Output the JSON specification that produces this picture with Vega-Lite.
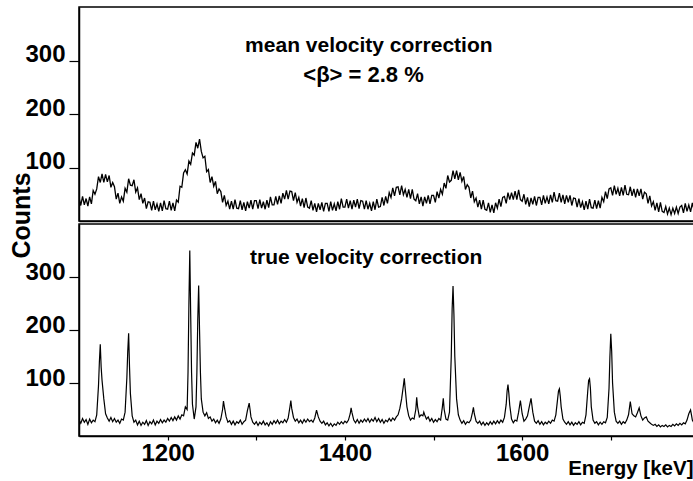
{
"$schema": "https://vega.github.io/schema/vega-lite/v6.json",
"background": "white",
"padding": {"left": 8, "top": 5, "right": 0, "bottom": 0},
"spacing": 3,
"bounds": "flush",
"config": {
  "font": "Liberation Sans, sans-serif",
  "view": {"stroke": "black", "strokeWidth": 1.5, "fill": null},
  "axis": {"grid": false, "domainColor": "black", "domainWidth": 1.5, "tickColor": "black", "tickWidth": 1.2, "labelColor": "black", "titleColor": "black", "labelFont": "Liberation Sans, sans-serif", "titleFont": "Liberation Sans, sans-serif", "labelFontSize": 24, "labelFontWeight": "bold", "labelOverlap": false, "labelFlush": false, "labelBound": false}
},
"vconcat": [
{
  "width": 616, "height": 214,
  "resolve": {"axis": {"y": "independent"}},
  "layer": [
    {
      "data": {"values": [
{"e":1100,"c":44},{"e":1102,"c":29},{"e":1104,"c":46},{"e":1106,"c":30},{"e":1108,"c":42},{"e":1110,"c":28},{"e":1112,"c":45},{"e":1114,"c":32},{"e":1116,"c":57},{"e":1118,"c":50},
{"e":1120,"c":60},{"e":1122,"c":83},{"e":1124,"c":72},{"e":1126,"c":88},{"e":1128,"c":72},{"e":1130,"c":87},{"e":1132,"c":73},{"e":1134,"c":85},{"e":1136,"c":63},{"e":1138,"c":72},
{"e":1140,"c":64},{"e":1142,"c":41},{"e":1144,"c":52},{"e":1146,"c":33},{"e":1148,"c":45},{"e":1150,"c":37},{"e":1152,"c":61},{"e":1154,"c":54},{"e":1156,"c":79},{"e":1158,"c":67},
{"e":1160,"c":66},{"e":1162,"c":77},{"e":1164,"c":54},{"e":1166,"c":62},{"e":1168,"c":40},{"e":1170,"c":51},{"e":1172,"c":33},{"e":1174,"c":43},{"e":1176,"c":23},{"e":1178,"c":36},
{"e":1180,"c":35},{"e":1182,"c":20},{"e":1184,"c":37},{"e":1186,"c":21},{"e":1188,"c":32},{"e":1190,"c":18},{"e":1192,"c":34},{"e":1194,"c":19},{"e":1196,"c":38},{"e":1198,"c":23},
{"e":1200,"c":22},{"e":1202,"c":37},{"e":1204,"c":20},{"e":1206,"c":34},{"e":1208,"c":19},{"e":1210,"c":39},{"e":1212,"c":35},{"e":1214,"c":65},{"e":1216,"c":63},{"e":1218,"c":90},
{"e":1220,"c":96},{"e":1222,"c":88},{"e":1224,"c":112},{"e":1226,"c":106},{"e":1228,"c":127},{"e":1230,"c":123},{"e":1232,"c":147},{"e":1234,"c":136},{"e":1236,"c":153},{"e":1238,"c":130},
{"e":1240,"c":118},{"e":1242,"c":121},{"e":1244,"c":92},{"e":1246,"c":96},{"e":1248,"c":72},{"e":1250,"c":83},{"e":1252,"c":65},{"e":1254,"c":74},{"e":1256,"c":51},{"e":1258,"c":60},
{"e":1260,"c":55},{"e":1262,"c":35},{"e":1264,"c":48},{"e":1266,"c":29},{"e":1268,"c":37},{"e":1270,"c":22},{"e":1272,"c":37},{"e":1274,"c":22},{"e":1276,"c":40},{"e":1278,"c":24},
{"e":1280,"c":23},{"e":1282,"c":38},{"e":1284,"c":21},{"e":1286,"c":35},{"e":1288,"c":19},{"e":1290,"c":36},{"e":1292,"c":24},{"e":1294,"c":39},{"e":1296,"c":22},{"e":1298,"c":38},
{"e":1300,"c":38},{"e":1302,"c":23},{"e":1304,"c":40},{"e":1306,"c":24},{"e":1308,"c":36},{"e":1310,"c":22},{"e":1312,"c":39},{"e":1314,"c":25},{"e":1316,"c":45},{"e":1318,"c":30},
{"e":1320,"c":30},{"e":1322,"c":46},{"e":1324,"c":31},{"e":1326,"c":47},{"e":1328,"c":33},{"e":1330,"c":52},{"e":1332,"c":41},{"e":1334,"c":57},{"e":1336,"c":41},{"e":1338,"c":56},
{"e":1340,"c":55},{"e":1342,"c":38},{"e":1344,"c":53},{"e":1346,"c":35},{"e":1348,"c":44},{"e":1350,"c":28},{"e":1352,"c":42},{"e":1354,"c":25},{"e":1356,"c":43},{"e":1358,"c":26},
{"e":1360,"c":24},{"e":1362,"c":38},{"e":1364,"c":20},{"e":1366,"c":33},{"e":1368,"c":17},{"e":1370,"c":33},{"e":1372,"c":21},{"e":1374,"c":35},{"e":1376,"c":18},{"e":1378,"c":33},
{"e":1380,"c":33},{"e":1382,"c":18},{"e":1384,"c":36},{"e":1386,"c":20},{"e":1388,"c":32},{"e":1390,"c":19},{"e":1392,"c":36},{"e":1394,"c":22},{"e":1396,"c":42},{"e":1398,"c":26},
{"e":1400,"c":26},{"e":1402,"c":41},{"e":1404,"c":24},{"e":1406,"c":38},{"e":1408,"c":22},{"e":1410,"c":39},{"e":1412,"c":26},{"e":1414,"c":41},{"e":1416,"c":23},{"e":1418,"c":38},
{"e":1420,"c":37},{"e":1422,"c":22},{"e":1424,"c":38},{"e":1426,"c":22},{"e":1428,"c":33},{"e":1430,"c":19},{"e":1432,"c":36},{"e":1434,"c":21},{"e":1436,"c":41},{"e":1438,"c":26},
{"e":1440,"c":27},{"e":1442,"c":44},{"e":1444,"c":29},{"e":1446,"c":46},{"e":1448,"c":33},{"e":1450,"c":53},{"e":1452,"c":44},{"e":1454,"c":62},{"e":1456,"c":47},{"e":1458,"c":63},
{"e":1460,"c":64},{"e":1462,"c":49},{"e":1464,"c":66},{"e":1466,"c":49},{"e":1468,"c":59},{"e":1470,"c":44},{"e":1472,"c":59},{"e":1474,"c":42},{"e":1476,"c":59},{"e":1478,"c":41},
{"e":1480,"c":38},{"e":1482,"c":51},{"e":1484,"c":32},{"e":1486,"c":45},{"e":1488,"c":28},{"e":1490,"c":45},{"e":1492,"c":33},{"e":1494,"c":48},{"e":1496,"c":32},{"e":1498,"c":48},
{"e":1500,"c":48},{"e":1502,"c":35},{"e":1504,"c":55},{"e":1506,"c":43},{"e":1508,"c":59},{"e":1510,"c":50},{"e":1512,"c":71},{"e":1514,"c":61},{"e":1516,"c":85},{"e":1518,"c":73},
{"e":1520,"c":76},{"e":1522,"c":94},{"e":1524,"c":79},{"e":1526,"c":94},{"e":1528,"c":77},{"e":1530,"c":91},{"e":1532,"c":74},{"e":1534,"c":83},{"e":1536,"c":59},{"e":1538,"c":68},
{"e":1540,"c":63},{"e":1542,"c":43},{"e":1544,"c":56},{"e":1546,"c":36},{"e":1548,"c":43},{"e":1550,"c":26},{"e":1552,"c":39},{"e":1554,"c":22},{"e":1556,"c":39},{"e":1558,"c":22},
{"e":1560,"c":20},{"e":1562,"c":34},{"e":1564,"c":16},{"e":1566,"c":30},{"e":1568,"c":15},{"e":1570,"c":34},{"e":1572,"c":24},{"e":1574,"c":41},{"e":1576,"c":27},{"e":1578,"c":44},
{"e":1580,"c":46},{"e":1582,"c":33},{"e":1584,"c":53},{"e":1586,"c":40},{"e":1588,"c":53},{"e":1590,"c":40},{"e":1592,"c":56},{"e":1594,"c":40},{"e":1596,"c":58},{"e":1598,"c":40},
{"e":1600,"c":37},{"e":1602,"c":50},{"e":1604,"c":31},{"e":1606,"c":44},{"e":1608,"c":27},{"e":1610,"c":43},{"e":1612,"c":31},{"e":1614,"c":46},{"e":1616,"c":29},{"e":1618,"c":44},
{"e":1620,"c":44},{"e":1622,"c":30},{"e":1624,"c":48},{"e":1626,"c":33},{"e":1628,"c":45},{"e":1630,"c":32},{"e":1632,"c":49},{"e":1634,"c":35},{"e":1636,"c":54},{"e":1638,"c":38},
{"e":1640,"c":37},{"e":1642,"c":52},{"e":1644,"c":35},{"e":1646,"c":49},{"e":1648,"c":32},{"e":1650,"c":48},{"e":1652,"c":35},{"e":1654,"c":48},{"e":1656,"c":29},{"e":1658,"c":43},
{"e":1660,"c":42},{"e":1662,"c":26},{"e":1664,"c":42},{"e":1666,"c":25},{"e":1668,"c":36},{"e":1670,"c":21},{"e":1672,"c":37},{"e":1674,"c":22},{"e":1676,"c":41},{"e":1678,"c":25},
{"e":1680,"c":24},{"e":1682,"c":39},{"e":1684,"c":23},{"e":1686,"c":38},{"e":1688,"c":24},{"e":1690,"c":44},{"e":1692,"c":36},{"e":1694,"c":55},{"e":1696,"c":42},{"e":1698,"c":60},
{"e":1700,"c":62},{"e":1702,"c":48},{"e":1704,"c":66},{"e":1706,"c":50},{"e":1708,"c":61},{"e":1710,"c":47},{"e":1712,"c":63},{"e":1714,"c":48},{"e":1716,"c":67},{"e":1718,"c":50},
{"e":1720,"c":49},{"e":1722,"c":64},{"e":1724,"c":47},{"e":1726,"c":60},{"e":1728,"c":44},{"e":1730,"c":60},{"e":1732,"c":47},{"e":1734,"c":60},{"e":1736,"c":41},{"e":1738,"c":54},
{"e":1740,"c":51},{"e":1742,"c":33},{"e":1744,"c":47},{"e":1746,"c":28},{"e":1748,"c":36},{"e":1750,"c":20},{"e":1752,"c":34},{"e":1754,"c":17},{"e":1756,"c":35},{"e":1758,"c":18},
{"e":1760,"c":16},{"e":1762,"c":27},{"e":1764,"c":13},{"e":1766,"c":24},{"e":1768,"c":12},{"e":1770,"c":24},{"e":1772,"c":14},{"e":1774,"c":26},{"e":1776,"c":14},{"e":1778,"c":26},
{"e":1780,"c":29},{"e":1782,"c":15},{"e":1784,"c":33},{"e":1786,"c":18},{"e":1788,"c":30},{"e":1790,"c":17},{"e":1792,"c":34},{"e":1794,"c":19}
      ]},
      "mark": {"type": "line", "color": "black", "strokeWidth": 1.3, "clip": true},
      "encoding": {
        "x": {"field": "e", "type": "quantitative", "scale": {"domain": [1100, 1795], "nice": false, "zero": false}, "axis": {"labels": false, "ticks": false, "title": null}},
        "y": {"field": "c", "type": "quantitative", "scale": {"domain": [0, 400], "nice": false},
          "axis": {"values": [100, 200, 300],
            "tickSize": 10, "labelPadding": 4, "labelOffset": -6,
            "title": "Counts", "titleFont": "Liberation Sans, sans-serif", "titleFontSize": 25, "titleFontWeight": "bold",
            "titleAngle": -90, "titleX": -50, "titleY": 208, "titleBaseline": "alphabetic", "titleAlign": "center"}}
      }
    },
    {
      "data": {"values": [{}]},
      "mark": {"type": "text", "font": "Liberation Sans, sans-serif", "fontSize": 21, "fontWeight": "bold", "baseline": "alphabetic", "align": "center", "color": "black"},
      "encoding": {"x": {"datum": 1427, "type": "quantitative"},
        "y": {"datum": 316, "type": "quantitative", "axis": {"values": [25,50,75,125,150,175,225,250,275,325,350,375], "labels": false, "domain": false, "tickSize": 5, "title": null}},
        "text": {"value": "mean velocity correction"}}
    },
    {
      "data": {"values": [{}]},
      "mark": {"type": "text", "font": "Liberation Sans, sans-serif", "fontSize": 22, "fontWeight": "bold", "baseline": "alphabetic", "align": "center", "color": "black"},
      "encoding": {"x": {"datum": 1421, "type": "quantitative"},
        "y": {"datum": 260, "type": "quantitative", "axis": {"values": [0, 400], "labels": false, "domain": false, "tickSize": 10, "title": null}},
        "text": {"value": "<β> = 2.8 %"}}
    }
  ]
},
{
  "width": 616, "height": 212,
  "resolve": {"axis": {"y": "independent"}},
  "layer": [
    {
      "data": {"values": [
{"e":1100,"c":30},{"e":1102,"c":24},{"e":1104,"c":33},{"e":1106,"c":26},{"e":1108,"c":31},{"e":1110,"c":22},{"e":1112,"c":32},{"e":1114,"c":25},{"e":1116,"c":30},{"e":1118,"c":27},
{"e":1120,"c":40},{"e":1122,"c":95},{"e":1123,"c":140},{"e":1124,"c":173},{"e":1125,"c":130},{"e":1126,"c":105},{"e":1128,"c":70},{"e":1130,"c":42},{"e":1132,"c":34},{"e":1134,"c":28},
{"e":1136,"c":35},{"e":1138,"c":27},{"e":1140,"c":33},{"e":1142,"c":26},{"e":1144,"c":30},{"e":1146,"c":24},{"e":1148,"c":32},{"e":1150,"c":30},{"e":1152,"c":45},{"e":1154,"c":110},
{"e":1155,"c":160},{"e":1156,"c":194},{"e":1157,"c":130},{"e":1158,"c":80},{"e":1160,"c":38},{"e":1162,"c":26},{"e":1164,"c":30},{"e":1166,"c":21},{"e":1168,"c":28},{"e":1170,"c":20},
{"e":1172,"c":26},{"e":1174,"c":22},{"e":1176,"c":29},{"e":1178,"c":20},{"e":1180,"c":27},{"e":1182,"c":23},{"e":1184,"c":30},{"e":1186,"c":21},{"e":1188,"c":28},{"e":1190,"c":24},
{"e":1192,"c":31},{"e":1194,"c":25},{"e":1196,"c":30},{"e":1198,"c":26},{"e":1200,"c":33},{"e":1202,"c":28},{"e":1204,"c":35},{"e":1206,"c":29},{"e":1208,"c":36},{"e":1210,"c":30},
{"e":1212,"c":38},{"e":1214,"c":32},{"e":1216,"c":40},{"e":1218,"c":38},{"e":1220,"c":55},{"e":1222,"c":50},{"e":1223,"c":120},{"e":1224,"c":250},{"e":1225,"c":350},{"e":1226,"c":230},
{"e":1227,"c":120},{"e":1228,"c":60},{"e":1230,"c":32},{"e":1232,"c":55},{"e":1233,"c":120},{"e":1234,"c":220},{"e":1235,"c":284},{"e":1236,"c":200},{"e":1237,"c":120},{"e":1238,"c":70},
{"e":1240,"c":45},{"e":1242,"c":38},{"e":1244,"c":44},{"e":1246,"c":33},{"e":1248,"c":36},{"e":1250,"c":28},{"e":1252,"c":32},{"e":1254,"c":25},{"e":1256,"c":30},{"e":1258,"c":24},
{"e":1260,"c":32},{"e":1262,"c":50},{"e":1263,"c":66},{"e":1264,"c":55},{"e":1266,"c":36},{"e":1268,"c":26},{"e":1270,"c":29},{"e":1272,"c":22},{"e":1274,"c":28},{"e":1276,"c":21},
{"e":1278,"c":27},{"e":1280,"c":24},{"e":1282,"c":30},{"e":1284,"c":22},{"e":1286,"c":27},{"e":1288,"c":30},{"e":1290,"c":48},{"e":1292,"c":62},{"e":1293,"c":50},{"e":1294,"c":36},
{"e":1296,"c":26},{"e":1298,"c":22},{"e":1300,"c":27},{"e":1302,"c":20},{"e":1304,"c":26},{"e":1306,"c":22},{"e":1308,"c":28},{"e":1310,"c":21},{"e":1312,"c":25},{"e":1314,"c":19},
{"e":1316,"c":27},{"e":1318,"c":22},{"e":1320,"c":29},{"e":1322,"c":24},{"e":1324,"c":30},{"e":1326,"c":23},{"e":1328,"c":28},{"e":1330,"c":25},{"e":1332,"c":31},{"e":1334,"c":26},
{"e":1336,"c":34},{"e":1338,"c":55},{"e":1339,"c":67},{"e":1340,"c":52},{"e":1342,"c":35},{"e":1344,"c":28},{"e":1346,"c":32},{"e":1348,"c":25},{"e":1350,"c":30},{"e":1352,"c":24},
{"e":1354,"c":31},{"e":1356,"c":26},{"e":1358,"c":32},{"e":1360,"c":27},{"e":1362,"c":30},{"e":1364,"c":26},{"e":1366,"c":34},{"e":1368,"c":49},{"e":1370,"c":36},{"e":1372,"c":28},
{"e":1374,"c":24},{"e":1376,"c":28},{"e":1378,"c":21},{"e":1380,"c":25},{"e":1382,"c":19},{"e":1384,"c":24},{"e":1386,"c":18},{"e":1388,"c":23},{"e":1390,"c":20},{"e":1392,"c":26},
{"e":1394,"c":22},{"e":1396,"c":27},{"e":1398,"c":23},{"e":1400,"c":28},{"e":1402,"c":25},{"e":1404,"c":30},{"e":1406,"c":42},{"e":1407,"c":53},{"e":1408,"c":44},{"e":1410,"c":30},
{"e":1412,"c":25},{"e":1414,"c":31},{"e":1416,"c":24},{"e":1418,"c":30},{"e":1420,"c":26},{"e":1422,"c":32},{"e":1424,"c":27},{"e":1426,"c":33},{"e":1428,"c":26},{"e":1430,"c":32},
{"e":1432,"c":28},{"e":1434,"c":35},{"e":1436,"c":27},{"e":1438,"c":33},{"e":1440,"c":26},{"e":1442,"c":31},{"e":1444,"c":24},{"e":1446,"c":30},{"e":1448,"c":27},{"e":1450,"c":33},
{"e":1452,"c":28},{"e":1454,"c":34},{"e":1456,"c":30},{"e":1458,"c":36},{"e":1460,"c":40},{"e":1462,"c":52},{"e":1464,"c":70},{"e":1466,"c":95},{"e":1467,"c":109},{"e":1468,"c":90},
{"e":1470,"c":55},{"e":1472,"c":38},{"e":1474,"c":30},{"e":1476,"c":34},{"e":1478,"c":32},{"e":1480,"c":50},{"e":1481,"c":73},{"e":1482,"c":55},{"e":1484,"c":36},{"e":1486,"c":40},
{"e":1488,"c":38},{"e":1489,"c":45},{"e":1490,"c":40},{"e":1492,"c":32},{"e":1494,"c":36},{"e":1496,"c":28},{"e":1498,"c":33},{"e":1500,"c":26},{"e":1502,"c":31},{"e":1504,"c":27},
{"e":1506,"c":33},{"e":1508,"c":30},{"e":1510,"c":55},{"e":1511,"c":71},{"e":1512,"c":50},{"e":1514,"c":32},{"e":1516,"c":30},{"e":1518,"c":45},{"e":1520,"c":150},{"e":1521,"c":240},
{"e":1522,"c":283},{"e":1523,"c":230},{"e":1524,"c":150},{"e":1526,"c":70},{"e":1528,"c":40},{"e":1530,"c":30},{"e":1532,"c":24},{"e":1534,"c":29},{"e":1536,"c":22},{"e":1538,"c":27},
{"e":1540,"c":25},{"e":1542,"c":30},{"e":1544,"c":45},{"e":1545,"c":54},{"e":1546,"c":42},{"e":1548,"c":28},{"e":1550,"c":24},{"e":1552,"c":28},{"e":1554,"c":21},{"e":1556,"c":26},
{"e":1558,"c":20},{"e":1560,"c":25},{"e":1562,"c":21},{"e":1564,"c":27},{"e":1566,"c":22},{"e":1568,"c":28},{"e":1570,"c":23},{"e":1572,"c":29},{"e":1574,"c":24},{"e":1576,"c":30},
{"e":1578,"c":26},{"e":1580,"c":35},{"e":1582,"c":60},{"e":1583,"c":85},{"e":1584,"c":97},{"e":1585,"c":80},{"e":1586,"c":58},{"e":1588,"c":32},{"e":1590,"c":25},{"e":1592,"c":30},
{"e":1594,"c":28},{"e":1596,"c":45},{"e":1598,"c":67},{"e":1600,"c":42},{"e":1602,"c":28},{"e":1604,"c":32},{"e":1606,"c":38},{"e":1608,"c":55},{"e":1610,"c":71},{"e":1612,"c":45},
{"e":1614,"c":28},{"e":1616,"c":24},{"e":1618,"c":29},{"e":1620,"c":22},{"e":1622,"c":27},{"e":1624,"c":21},{"e":1626,"c":26},{"e":1628,"c":23},{"e":1630,"c":28},{"e":1632,"c":24},
{"e":1634,"c":30},{"e":1636,"c":28},{"e":1638,"c":40},{"e":1640,"c":70},{"e":1641,"c":85},{"e":1642,"c":89},{"e":1643,"c":75},{"e":1644,"c":55},{"e":1646,"c":32},{"e":1648,"c":26},
{"e":1650,"c":22},{"e":1652,"c":27},{"e":1654,"c":21},{"e":1656,"c":26},{"e":1658,"c":20},{"e":1660,"c":25},{"e":1662,"c":22},{"e":1664,"c":27},{"e":1666,"c":21},{"e":1668,"c":26},
{"e":1670,"c":24},{"e":1672,"c":40},{"e":1674,"c":85},{"e":1675,"c":105},{"e":1676,"c":108},{"e":1677,"c":90},{"e":1678,"c":55},{"e":1680,"c":30},{"e":1682,"c":24},{"e":1684,"c":27},
{"e":1686,"c":21},{"e":1688,"c":26},{"e":1690,"c":22},{"e":1692,"c":27},{"e":1694,"c":25},{"e":1696,"c":35},{"e":1698,"c":90},{"e":1699,"c":150},{"e":1700,"c":193},{"e":1701,"c":160},
{"e":1702,"c":100},{"e":1704,"c":45},{"e":1706,"c":28},{"e":1708,"c":24},{"e":1710,"c":28},{"e":1712,"c":22},{"e":1714,"c":27},{"e":1716,"c":24},{"e":1718,"c":30},{"e":1720,"c":40},
{"e":1722,"c":65},{"e":1724,"c":42},{"e":1726,"c":38},{"e":1728,"c":36},{"e":1730,"c":44},{"e":1732,"c":53},{"e":1734,"c":38},{"e":1736,"c":30},{"e":1738,"c":34},{"e":1740,"c":36},
{"e":1742,"c":28},{"e":1744,"c":25},{"e":1746,"c":22},{"e":1748,"c":20},{"e":1750,"c":22},{"e":1752,"c":18},{"e":1754,"c":21},{"e":1756,"c":17},{"e":1758,"c":20},{"e":1760,"c":18},
{"e":1762,"c":21},{"e":1764,"c":17},{"e":1766,"c":20},{"e":1768,"c":18},{"e":1770,"c":22},{"e":1772,"c":19},{"e":1774,"c":23},{"e":1776,"c":20},{"e":1778,"c":24},{"e":1780,"c":21},
{"e":1782,"c":25},{"e":1784,"c":23},{"e":1786,"c":30},{"e":1788,"c":42},{"e":1790,"c":49},{"e":1791,"c":40},{"e":1792,"c":30},{"e":1794,"c":24}
      ]},
      "mark": {"type": "line", "color": "black", "strokeWidth": 1.2, "clip": true},
      "encoding": {
        "x": {"field": "e", "type": "quantitative", "scale": {"domain": [1100, 1795], "nice": false, "zero": false},
          "axis": {"values": [1200, 1300, 1400, 1500, 1600, 1700], "format": "d",
            "labelExpr": "datum.value % 200 === 0 ? datum.label : ''",
            "tickSize": 4, "labelPadding": 1,
            "title": "Energy [keV]", "titleFontSize": 20.5, "titleFontWeight": "bold",
            "titleX": 614, "titleY": 38, "titleAlign": "right", "titleBaseline": "alphabetic", "titleAnchor": "end"}},
        "y": {"field": "c", "type": "quantitative", "scale": {"domain": [0, 400], "nice": false},
          "axis": {"values": [100, 200, 300],
            "tickSize": 10, "labelPadding": 4, "labelOffset": -5, "title": null}}
      }
    },
    {
      "data": {"values": [{}]},
      "mark": {"type": "text", "font": "Liberation Sans, sans-serif", "fontSize": 21, "fontWeight": "bold", "baseline": "alphabetic", "align": "center", "color": "black"},
      "encoding": {"x": {"datum": 1424, "type": "quantitative"},
        "y": {"datum": 325, "type": "quantitative", "axis": {"values": [25,50,75,125,150,175,225,250,275,325,350,375], "labels": false, "domain": false, "tickSize": 5, "title": null}},
        "text": {"value": "true velocity correction"}}
    }
  ]
}
]
}
